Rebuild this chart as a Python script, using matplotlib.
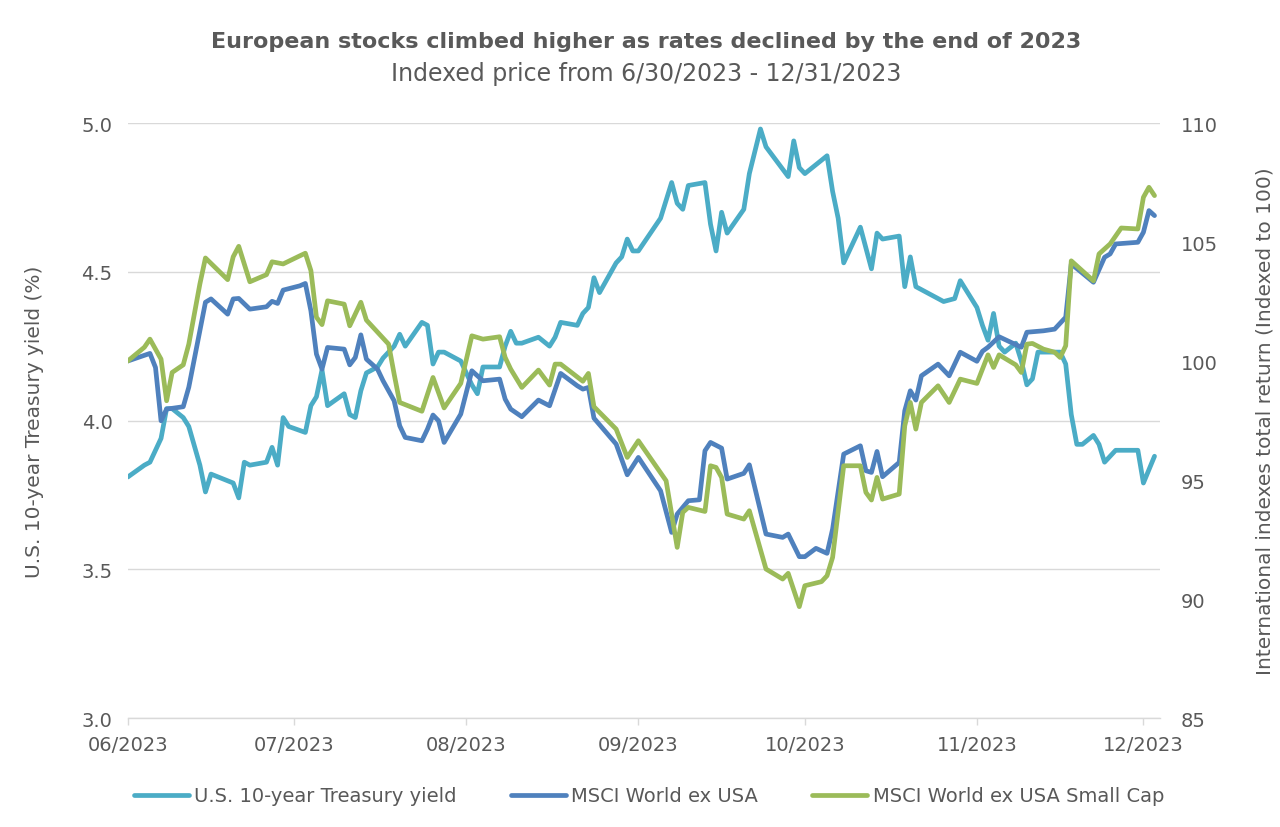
import pandas as pd
import matplotlib
matplotlib.use("Agg")
import matplotlib.pyplot as plt
import matplotlib.dates as mdates

# Index base date, series are given as calendar days after it
BASE = pd.Timestamp("2023-06-30")

tsy_days = [0, 3, 4, 6, 7, 8, 10, 11, 13, 14, 15, 19, 20, 21, 22, 25, 26, 27, 28, 29,
            32, 33, 34, 35, 36, 39, 40, 41, 42, 43, 45, 46, 48, 49, 50, 53, 54, 55, 56, 57,
            60, 61, 62, 63, 64, 67, 68, 69, 70, 71, 74, 76, 77, 78, 81, 82, 83, 84, 85, 88,
            89, 90, 91, 92, 96, 98, 99, 100, 101, 104, 105, 106, 107, 108, 111, 112, 114, 115, 119, 120,
            121, 122, 126, 127, 128, 129, 132, 134, 135, 136, 139, 140, 141, 142, 145, 147, 149, 150, 152, 153,
            154, 155, 156, 157, 158, 160, 161, 162, 163, 164, 168, 169, 170, 171, 172, 174, 175, 176, 178, 182,
            183, 185]
tsy_yield = [3.81, 3.85, 3.86, 3.94, 4.04, 4.04, 4.01, 3.98, 3.85, 3.76, 3.82, 3.79, 3.74, 3.86, 3.85, 3.86, 3.91, 3.85, 4.01, 3.98,
             3.96, 4.05, 4.08, 4.17, 4.05, 4.09, 4.02, 4.01, 4.10, 4.16, 4.18, 4.21, 4.25, 4.29, 4.25, 4.33, 4.32, 4.19, 4.23, 4.23,
             4.20, 4.16, 4.12, 4.09, 4.18, 4.18, 4.25, 4.30, 4.26, 4.26, 4.28, 4.25, 4.28, 4.33, 4.32, 4.36, 4.38, 4.48, 4.43, 4.53,
             4.55, 4.61, 4.57, 4.57, 4.68, 4.80, 4.73, 4.71, 4.79, 4.80, 4.66, 4.57, 4.70, 4.63, 4.71, 4.83, 4.98, 4.92, 4.82, 4.94,
             4.85, 4.83, 4.89, 4.77, 4.68, 4.53, 4.65, 4.51, 4.63, 4.61, 4.62, 4.45, 4.55, 4.45, 4.42, 4.40, 4.41, 4.47, 4.41, 4.38,
             4.32, 4.27, 4.36, 4.25, 4.23, 4.26, 4.20, 4.12, 4.14, 4.23, 4.23, 4.19, 4.02, 3.92, 3.92, 3.95, 3.92, 3.86, 3.90, 3.90,
             3.79, 3.88]

msci_days = [0, 4, 5, 6, 7, 10, 11, 14, 15, 18, 19, 20, 22, 25, 26, 27, 28, 31, 32, 33,
             34, 35, 36, 39, 40, 41, 42, 43, 45, 46, 48, 49, 50, 53, 54, 55, 56, 57, 60, 62,
             64, 67, 68, 69, 71, 74, 76, 78, 81, 82, 83, 84, 88, 90, 92, 96, 98, 99, 101, 103,
             104, 105, 107, 108, 111, 112, 115, 118, 119, 121, 122, 124, 126, 127, 129, 132, 133, 134, 135, 136,
             139, 140, 141, 142, 143, 146, 148, 150, 153, 154, 155, 157, 161, 162, 165, 167, 169, 170, 174, 176,
             177, 178, 182, 183, 184, 185]
msci_idx = [100.0, 100.32, 99.73, 97.49, 97.98, 98.08, 98.9, 102.47, 102.61, 101.97, 102.61, 102.63, 102.18, 102.28, 102.51, 102.42, 102.98, 103.16, 103.26, 102.11,
            100.29, 99.66, 100.57, 100.5, 99.84, 100.15, 101.1, 100.08, 99.66, 99.17, 98.33, 97.28, 96.79, 96.65, 97.14, 97.73, 97.49, 96.58, 97.77, 99.59,
            99.17, 99.24, 98.4, 97.98, 97.66, 98.36, 98.12, 99.48, 98.96, 98.82, 98.89, 97.6, 96.51, 95.22, 95.95, 94.55, 92.8, 93.57, 94.13, 94.17,
            96.23, 96.58, 96.34, 95.04, 95.28, 95.64, 92.73, 92.59, 92.73, 91.78, 91.78, 92.13, 91.92, 92.94, 96.09, 96.44, 95.39, 95.32, 96.2, 95.14,
            95.74, 97.91, 98.75, 98.36, 99.38, 99.87, 99.38, 100.37, 99.99, 100.41, 100.58, 101.02, 100.58, 101.21, 101.27, 101.34, 101.84, 104.08, 103.31, 104.36,
            104.5, 104.92, 104.99, 105.41, 106.32, 106.11]

small_days = [0, 3, 4, 6, 7, 8, 10, 11, 13, 14, 18, 19, 20, 22, 25, 26, 28, 31, 32, 33,
              34, 35, 36, 39, 40, 42, 43, 47, 48, 49, 53, 55, 57, 60, 62, 64, 67, 68, 69, 71,
              74, 76, 77, 78, 82, 83, 84, 88, 90, 92, 97, 99, 100, 101, 104, 105, 106, 107, 108, 111,
              112, 115, 118, 119, 121, 122, 125, 126, 127, 129, 132, 133, 134, 135, 136, 139, 140, 141, 142, 143,
              146, 148, 150, 153, 155, 156, 157, 160, 161, 162, 163, 165, 167, 168, 169, 170, 174, 175, 177, 179,
              182, 183, 184, 185]
small_idx = [100.0, 100.58, 100.92, 100.08, 98.33, 99.52, 99.84, 100.71, 103.24, 104.33, 103.42, 104.38, 104.82, 103.33, 103.63, 104.17, 104.08, 104.42, 104.53, 103.8,
             101.84, 101.53, 102.53, 102.39, 101.48, 102.47, 101.72, 100.71, 99.45, 98.26, 97.89, 99.31, 98.03, 99.06, 101.06, 100.92, 101.02, 100.15, 99.66, 98.89,
             99.62, 98.99, 99.87, 99.87, 99.15, 99.48, 98.08, 97.14, 95.95, 96.65, 94.97, 92.17, 93.64, 93.85, 93.68, 95.6, 95.53, 95.11, 93.57, 93.36,
             93.71, 91.26, 90.84, 91.08, 89.68, 90.56, 90.73, 90.98, 91.75, 95.6, 95.6, 94.48, 94.16, 95.11, 94.2, 94.41, 97.28, 98.26, 97.14, 98.26,
             98.96, 98.26, 99.24, 99.06, 100.26, 99.73, 100.26, 99.84, 99.52, 100.71, 100.74, 100.5, 100.37, 100.15, 100.64, 104.21, 103.37, 104.5, 104.92, 105.59,
             105.55, 106.88, 107.3, 106.95]

series_names = ["U.S. 10-year Treasury yield", "MSCI World ex USA", "MSCI World ex USA Small Cap"]
series_colors = ["#4BACC6", "#4F81BD", "#9BBB59"]

title = "European stocks climbed higher as rates declined by the end of 2023"
subtitle = "Indexed price from 6/30/2023 - 12/31/2023"
left_label = "U.S. 10-year Treasury yield (%)"
right_label = "International indexes total return (Indexed to 100)"


def to_dates(days):
    return BASE + pd.to_timedelta(days, unit="D")


TEXT = "#595959"
GRID = "#D9D9D9"
plt.rcParams["font.family"] = ["DejaVu Sans"]

fig = plt.figure(figsize=(12.8, 8.28), dpi=100)
ax = fig.add_axes([0.0998, 0.1316, 0.8065, 0.7186])
ax2 = ax.twinx()

line_kw = dict(lw=3.4, solid_joinstyle="round", solid_capstyle="round")
l1, = ax.plot(to_dates(tsy_days), tsy_yield, color=series_colors[0], **line_kw)
l2, = ax2.plot(to_dates(msci_days), msci_idx, color=series_colors[1], **line_kw)
l3, = ax2.plot(to_dates(small_days), small_idx, color=series_colors[2], **line_kw)

# axes ranges
ax.set_ylim(3.0, 5.0)
ax.set_yticks([3.0, 3.5, 4.0, 4.5, 5.0])
ax.yaxis.set_major_formatter(matplotlib.ticker.FormatStrFormatter("%.1f"))
ax2.set_ylim(85, 110)
ax2.set_yticks([85, 90, 95, 100, 105, 110])
ax.set_xlim(BASE, BASE + pd.Timedelta(days=186))

# monthly ticks counted from the base date
xticks = [BASE + pd.DateOffset(months=m) for m in range(7)]
ax.set_xticks(xticks)
ax.xaxis.set_major_formatter(mdates.DateFormatter("%m/%Y"))

ax.grid(axis="y", color=GRID, lw=1.0)
ax.set_axisbelow(True)
for a in (ax, ax2):
    for s in a.spines.values():
        s.set_visible(False)
ax.spines["bottom"].set_visible(True)
ax.spines["bottom"].set_color(GRID)
ax.spines["bottom"].set_linewidth(1.0)

ax.tick_params(axis="x", colors=GRID, length=5, width=1.0, pad=7, labelsize=14, labelcolor=TEXT)
ax.tick_params(axis="y", length=0, pad=11, labelsize=14, labelcolor=TEXT)
ax2.tick_params(axis="y", length=0, pad=15, labelsize=14, labelcolor=TEXT)

ax.set_ylabel(left_label, fontsize=14.5, color=TEXT)
ax.yaxis.set_label_coords(-0.081, 0.5)
ax2.set_ylabel(right_label, fontsize=14.5, color=TEXT)
ax2.yaxis.set_label_coords(1.092, 0.5)

fig.text(0.505, 0.949, title, ha="center", va="center", fontsize=16,
         fontweight="bold", color=TEXT)
fig.text(0.505, 0.911, subtitle, ha="center", va="center", fontsize=17, color=TEXT)

fig.legend([l1, l2, l3], series_names, loc="center", bbox_to_anchor=(0.507, 0.0375),
           ncol=3, frameon=False, fontsize=14, handlelength=2.83, columnspacing=2.8,
           handletextpad=0.26, labelcolor=TEXT)

fig.savefig("out.png", dpi=100)
